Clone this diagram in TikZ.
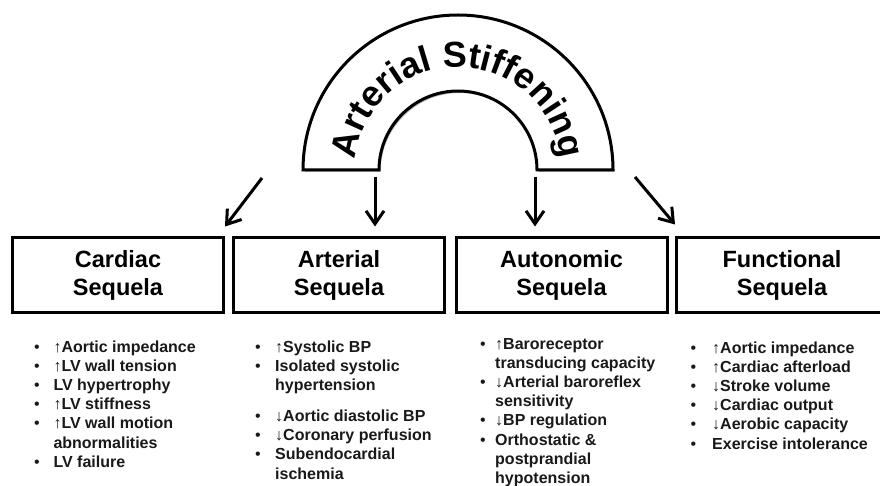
\documentclass[tikz,border=0pt]{standalone}
\usepackage{fontspec}
\setmainfont{Liberation Sans}
\usetikzlibrary{arrows.meta,decorations.text,shadows}
\newcommand{\archfont}{\fontsize{36}{36}\selectfont\bfseries}
\newcommand{\bul}{\mdseries\textbullet}
\tikzset{
  sequela/.style={draw,line width=3pt,fill=white,minimum width=211pt,minimum height=74pt,
    align=center,font=\fontsize{23.5}{28}\selectfont\bfseries,
    drop shadow={shadow xshift=1.5pt,shadow yshift=-2pt,opacity=.3,fill=black}},
  listtext/.style={anchor=base west,inner sep=0pt,font=\fontsize{16}{19.2}\selectfont\bfseries,text=black!90},
  pointer/.style={line width=3pt,-{Straight Barb[length=13pt,width=18pt]}}
}
\begin{document}
\begin{tikzpicture}[x=1pt,y=1pt]
      \useasboundingbox (0,0) rectangle (880,485);
      % arch
      \draw[line width=3pt,fill=white,drop shadow={shadow xshift=1.5pt,shadow yshift=-2pt,opacity=.3,fill=black}]
        (303,315) arc[start angle=180,end angle=0,radius=155]--(537,315)
        arc[start angle=0,end angle=180,radius=79]--cycle;
      \path[decorate,decoration={text along path,text align=center,text={|\archfont|Arterial Stiffening}}]
        (458,315) ++(178:103) arc[start angle=178,end angle=2,radius=103];
      % boxes
      \node[sequela](cardiac) at (118,210) {Cardiac\\Sequela};
      \node[sequela](arterial) at (339,210) {Arterial\\Sequela};
      \node[sequela](autonomic) at (561.5,210) {Autonomic\\Sequela};
      \node[sequela](functional) at (782,210) {Functional\\Sequela};
      % arrows
      \coordinate (s1) at (262,307);
      \coordinate (s2) at (375,308);
      \coordinate (s3) at (535,308);
      \coordinate (s4) at (635,308);
      \draw[pointer](s1)--([yshift=10pt]cardiac.north east);
      \draw[pointer,shorten >=10pt](s2)--(s2 |- arterial.north);
      \draw[pointer,shorten >=10pt](s3)--(s3 |- autonomic.north);
      \draw[pointer](s4)--([yshift=12pt]functional.north west);
      % lists
      \node[listtext](cardiaclist) at (33.8,133) {\begin{tabular}[t]{@{}p{19.5pt}@{}l@{}}
        \bul & ↑Aortic impedance\\
        \bul & ↑LV wall tension\\
        \bul & LV hypertrophy\\
        \bul & ↑LV stiffness\\
        \bul & ↑LV wall motion\\
             & abnormalities\\
        \bul & LV failure
      \end{tabular}};
      \node[listtext](arteriallist) at (255,133) {\begin{tabular}[t]{@{}p{20pt}@{}l@{}}
        \bul & ↑Systolic BP\\
        \bul & Isolated systolic\\
             & hypertension\\[11.8pt]
        \bul & ↓Aortic diastolic BP\\
        \bul & ↓Coronary perfusion\\
        \bul & Subendocardial\\
             & ischemia
      \end{tabular}};
      \node[listtext](autonomiclist) at (480,136) {\begin{tabular}[t]{@{}p{15pt}@{}l@{}}
        \bul & ↑Baroreceptor\\
             & transducing capacity\\
        \bul & ↓Arterial baroreflex\\
             & sensitivity\\
        \bul & ↓BP regulation\\
        \bul & Orthostatic \&\\
             & postprandial\\
             & hypotension
      \end{tabular}};
      \node[listtext](functionallist) at (690.5,132) {\begin{tabular}[t]{@{}p{21.5pt}@{}l@{}}
        \bul & ↑Aortic impedance\\
        \bul & ↑Cardiac afterload\\
        \bul & ↓Stroke volume\\
        \bul & ↓Cardiac output\\
        \bul & ↓Aerobic capacity\\
        \bul & Exercise intolerance
      \end{tabular}};
    \end{tikzpicture}
\end{document}
